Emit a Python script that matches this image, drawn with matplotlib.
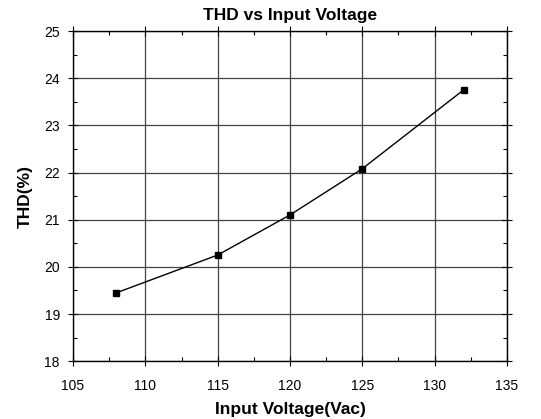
import matplotlib
matplotlib.use("Agg")
import matplotlib.pyplot as plt
from matplotlib.ticker import MultipleLocator

plt.rcParams['font.family'] = ['Liberation Sans', 'DejaVu Sans']

voltage = [108, 115, 120, 125, 132]
thd = [19.45, 20.25, 21.1, 22.08, 23.75]

fig = plt.figure(figsize=(5.41, 4.19), dpi=100)
ax = fig.add_axes([0.135, 0.138, 0.802, 0.788])

ax.plot(voltage, thd, color='black', linewidth=1.0, marker='s', markersize=5,
        markerfacecolor='black', markeredgecolor='black')

ax.set_xlim(105, 135)
ax.set_ylim(18, 25)
ax.xaxis.set_major_locator(MultipleLocator(5))
ax.xaxis.set_minor_locator(MultipleLocator(2.5))
ax.yaxis.set_major_locator(MultipleLocator(1))
ax.yaxis.set_minor_locator(MultipleLocator(0.5))

ax.grid(True, which='major', color='#444444', linewidth=0.9)
ax.set_axisbelow(True)

ax.tick_params(axis='both', which='major', direction='inout', length=7, width=0.8,
               labelsize=10, colors='black')
ax.tick_params(axis='x', which='major', pad=9)
ax.tick_params(axis='y', which='major', pad=6)
ax.tick_params(axis='both', which='minor', direction='in', length=3, width=0.8)
ax.tick_params(axis='x', which='both', top=True, labeltop=False)
ax.tick_params(axis='y', which='both', right=True, labelright=False)

for s in ax.spines.values():
    s.set_linewidth(1.0)
    s.set_color('black')

ax.set_title('THD vs Input Voltage', fontsize=12.5, fontweight='bold', pad=8)
ax.set_xlabel('Input Voltage(Vac)', fontsize=12.5, fontweight='bold', labelpad=7)
ax.set_ylabel('THD(%)', fontsize=12.5, fontweight='bold', labelpad=8)

fig.savefig('out.png', dpi=100)
